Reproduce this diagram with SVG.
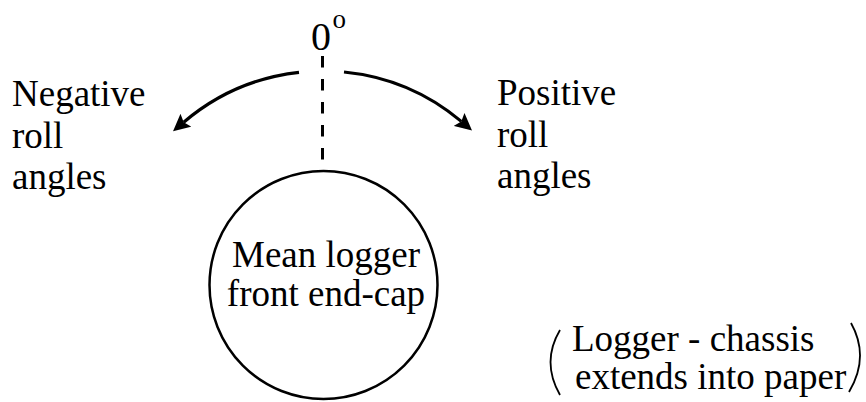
<svg xmlns="http://www.w3.org/2000/svg" width="866" height="402" viewBox="0 0 866 402">
<style>
  text { font-family: "Liberation Serif", "Times New Roman", serif; font-size: 37px; fill: #000; }
  .arc { fill: none; stroke: #000; stroke-width: 3.2; }
  .paren { fill: none; stroke: #000; stroke-width: 1.8; }
</style>
<defs>
  <marker id="ah" markerUnits="userSpaceOnUse" markerWidth="17" markerHeight="17" viewBox="0 0 17 17" refX="3" refY="8.5" orient="auto">
    <path d="M0,0 L17,8.5 L0,17 L3,8.5 z" fill="#000"/>
  </marker>
</defs>
<rect width="866" height="402" fill="#fff"/>
<g id="zero-label">
  <text x="311" y="50" style="font-size:40px">0<tspan dx="1.5" dy="-22" style="font-size:27px">o</tspan></text>
</g>
<g id="negative-label">
  <text x="12" y="106">Negative</text>
  <text x="12" y="148">roll</text>
  <text x="12" y="189">angles</text>
</g>
<g id="positive-label">
  <text x="497" y="105">Positive</text>
  <text x="497" y="147">roll</text>
  <text x="497" y="188">angles</text>
</g>
<g id="end-cap">
  <circle cx="323.5" cy="285" r="114" fill="none" stroke="#000" stroke-width="2.5"/>
  <text x="326" y="267" text-anchor="middle">Mean logger</text>
  <text x="326" y="306" text-anchor="middle">front end-cap</text>
</g>
<g id="chassis-note">
  <path class="paren" d="M560,330 Q541,362 560,395"/>
  <text x="572" y="351">Logger - chassis</text>
  <text x="575" y="389">extends into paper</text>
  <path class="paren" d="M851,323 Q870,357 849,392"/>
</g>
<g id="connectors">
  <line x1="322.5" y1="56" x2="322.5" y2="160" stroke="#000" stroke-width="3" stroke-dasharray="11.5 11.5"/>
  <path class="arc" d="M299,72.3 A215,215 0 0 0 183.7,122.2" marker-end="url(#ah)"/>
  <path class="arc" d="M344,72 A215,215 0 0 1 461.3,121.4" marker-end="url(#ah)"/>
</g>
</svg>
